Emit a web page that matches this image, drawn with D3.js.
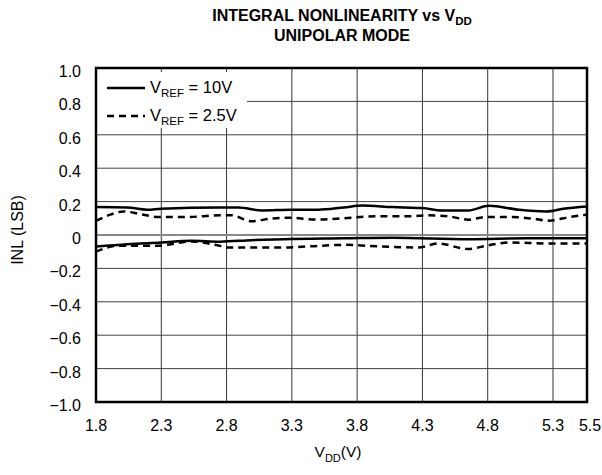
<!DOCTYPE html>
<html>
<head>
<meta charset="utf-8">
<script src="https://cdn.jsdelivr.net/npm/d3@7"></script>
<style>
  body { margin: 0; background: #fff; }
  text { font-family: "Liberation Sans", Arial, sans-serif; fill: #000; }
</style>
</head>
<body>
<svg id="chart" width="602" height="475"></svg>
<script>
// x ticks (VDD) and y ticks (INL)
var xTicks = [1.8, 2.3, 2.8, 3.3, 3.8, 4.3, 4.8, 5.3, 5.5];
var yTicks = [-1.0, -0.8, -0.6, -0.4, -0.2, 0, 0.2, 0.4, 0.6, 0.8, 1.0];

// VREF = 10V, upper trace
var vdd10Hi = [1.8, 2.04, 2.19, 2.3, 2.75, 2.89, 3.07, 3.3, 3.5, 3.7, 3.84, 4.07, 4.3, 4.45, 4.65, 4.81, 5.04, 5.25, 5.36, 5.5];
var inl10Hi = [0.168, 0.165, 0.151, 0.157, 0.165, 0.165, 0.147, 0.151, 0.151, 0.165, 0.176, 0.167, 0.161, 0.147, 0.147, 0.175, 0.151, 0.141, 0.157, 0.171];

// VREF = 10V, lower trace
var vdd10Lo = [1.8, 2.04, 2.3, 2.53, 2.75, 2.99, 3.24, 3.7, 4.07, 4.65, 5.1, 5.5];
var inl10Lo = [-0.069, -0.055, -0.045, -0.035, -0.04, -0.031, -0.025, -0.02, -0.016, -0.025, -0.02, -0.02];

// VREF = 2.5V, upper trace
var vdd25Hi = [1.8, 1.91, 2.01, 2.14, 2.27, 2.5, 2.75, 2.84, 2.99, 3.14, 3.27, 3.5, 3.7, 3.94, 4.19, 4.35, 4.5, 4.65, 4.79, 4.97, 5.14, 5.27, 5.4, 5.5];
var inl25Hi = [0.085, 0.122, 0.141, 0.125, 0.108, 0.108, 0.118, 0.118, 0.082, 0.098, 0.104, 0.092, 0.1, 0.112, 0.112, 0.118, 0.112, 0.092, 0.108, 0.108, 0.098, 0.086, 0.108, 0.122];

// VREF = 2.5V, lower trace
var vdd25Lo = [1.8, 1.96, 2.26, 2.53, 2.75, 2.81, 3.24, 3.5, 3.7, 3.99, 4.27, 4.42, 4.65, 4.81, 4.97, 5.27, 5.5];
var inl25Lo = [-0.1, -0.065, -0.065, -0.039, -0.065, -0.075, -0.075, -0.065, -0.059, -0.069, -0.075, -0.051, -0.084, -0.061, -0.045, -0.051, -0.051];

var svg = d3.select("#chart");
var plotL = 96, plotR = 587, plotT = 68, plotB = 402;

var x = d3.scaleLinear().domain([1.8, 5.3, 5.5]).range([plotL, 553, plotR]);
var y = d3.scaleLinear().domain([-1, 1]).range([plotB, plotT]);

// grid
var grid = svg.append("g");
grid.selectAll(".vg").data(xTicks.slice(1, -1)).enter().append("line")
  .attr("x1", function(d) { return x(d); }).attr("x2", function(d) { return x(d); })
  .attr("y1", plotT).attr("y2", plotB)
  .attr("stroke", "#333").attr("stroke-width", 1);
grid.selectAll(".hg").data(yTicks.slice(1, -1)).enter().append("line")
  .attr("x1", plotL).attr("x2", plotR)
  .attr("y1", function(d) { return y(d); }).attr("y2", function(d) { return y(d); })
  .attr("stroke", function(d) { return d === 0 ? "#888" : "#444"; })
  .attr("stroke-width", function(d) { return d === 0 ? 2 : 1; });

// legend background hides grid
svg.append("rect").attr("x", plotL).attr("y", plotT + 4).attr("width", 151).attr("height", 56).attr("fill", "#fff");

// curves
var line = d3.line()
  .x(function(d) { return x(d[0]); })
  .y(function(d) { return y(d[1]); })
  .curve(d3.curveMonotoneX);

var series = [
  { xs: vdd10Hi, ys: inl10Hi, dash: null },
  { xs: vdd10Lo, ys: inl10Lo, dash: null },
  { xs: vdd25Hi, ys: inl25Hi, dash: "7,5" },
  { xs: vdd25Lo, ys: inl25Lo, dash: "7,5" }
];
series.forEach(function(s) {
  svg.append("path")
    .datum(d3.zip(s.xs, s.ys))
    .attr("d", line)
    .attr("fill", "none")
    .attr("stroke", "#000")
    .attr("stroke-width", 2.5)
    .attr("stroke-dasharray", s.dash);
});

// frame
svg.append("rect").attr("x", plotL).attr("y", plotT).attr("width", plotR - plotL).attr("height", plotB - plotT)
  .attr("fill", "none").attr("stroke", "#000").attr("stroke-width", 2.5);

// y tick labels
svg.selectAll(".yl").data(yTicks).enter().append("text")
  .attr("x", 81).attr("y", function(d) { return y(d) + 9; })
  .attr("text-anchor", "end").style("font-size", "16px")
  .text(function(d) { return d === 0 ? "0" : (d < 0 ? "\u2212" + Math.abs(d).toFixed(1) : d.toFixed(1)); });

// x tick labels
svg.selectAll(".xl").data(xTicks).enter().append("text")
  .attr("x", function(d) { return x(d) + (d === 5.5 ? 3 : 0); }).attr("y", 431)
  .attr("text-anchor", "middle").style("font-size", "16px")
  .text(function(d) { return d.toFixed(1); });

// axis titles
svg.append("text").attr("transform", "translate(23,230) rotate(-90)")
  .attr("text-anchor", "middle").style("font-size", "16px").text("INL (LSB)");

var xt = svg.append("text").attr("x", 338).attr("y", 457).attr("text-anchor", "middle").style("font-size", "15.5px");
xt.append("tspan").text("V");
xt.append("tspan").attr("dy", 5).style("font-size", "11px").text("DD");
xt.append("tspan").attr("dy", -5).text("(V)");

// title
var t1 = svg.append("text").attr("x", 342).attr("y", 21).attr("text-anchor", "middle")
  .style("font-size", "16px").style("font-weight", "bold");
t1.append("tspan").text("INTEGRAL NONLINEARITY vs V");
t1.append("tspan").attr("dy", 4).style("font-size", "11.5px").text("DD");
svg.append("text").attr("x", 342).attr("y", 41).attr("text-anchor", "middle")
  .style("font-size", "16px").style("font-weight", "bold").text("UNIPOLAR MODE");

// legend
var legendRows = [
  { label: "= 10V", dash: null, y: 88 },
  { label: "= 2.5V", dash: "7,5", y: 116 }
];
legendRows.forEach(function(r) {
  svg.append("line").attr("x1", 107).attr("x2", 145).attr("y1", r.y).attr("y2", r.y)
    .attr("stroke", "#000").attr("stroke-width", 2.5).attr("stroke-dasharray", r.dash);
  var t = svg.append("text").attr("x", 150).attr("y", r.y + 5).style("font-size", "16.5px");
  t.append("tspan").text("V");
  t.append("tspan").attr("dy", 4).style("font-size", "11.5px").text("REF");
  t.append("tspan").attr("dy", -4).text(" " + r.label);
});
</script>
</body>
</html>
